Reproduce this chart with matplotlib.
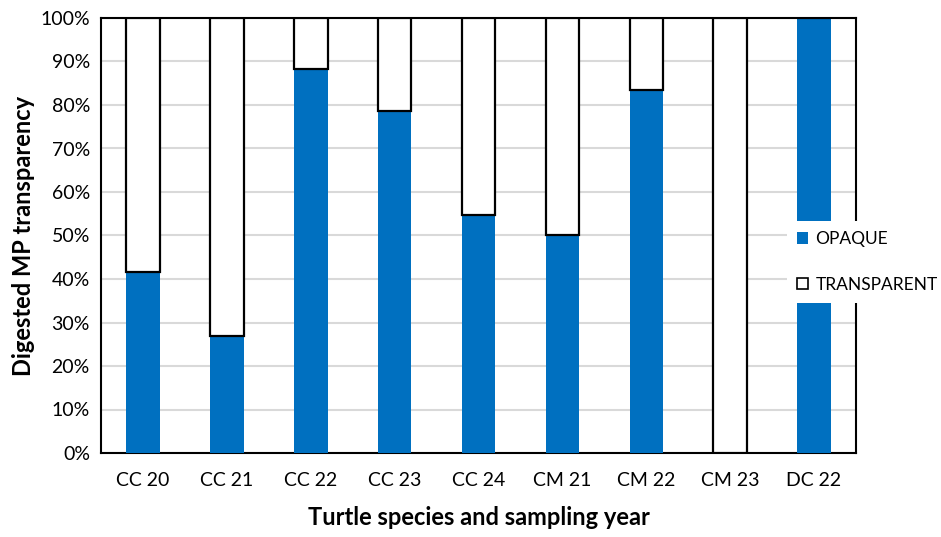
import matplotlib
matplotlib.use("Agg")
import matplotlib.pyplot as plt
from matplotlib.patches import Patch
import numpy as np

categories = ["CC 20", "CC 21", "CC 22", "CC 23", "CC 24", "CM 21", "CM 22", "CM 23", "DC 22"]
opaque = [41.6, 26.9, 88.3, 78.6, 54.7, 50.1, 83.4, 0.0, 100.0]
transparent = [100 - v for v in opaque]
y_ticks = list(range(0, 101, 10))

plt.rcParams["font.family"] = ["Lato", "DejaVu Sans"]

fig = plt.figure(figsize=(9.41, 5.37), dpi=100)
ax = fig.add_axes([101 / 941, 1 - 453 / 537, (856 - 101) / 941, (453 - 18) / 537])

x = np.arange(len(categories))
w = 0.4
ax.bar(x, opaque, width=w, color="#0070C0", edgecolor="none", zorder=3)
ax.bar(x, transparent, width=w, bottom=opaque, color="white",
       edgecolor="black", linewidth=1.6, zorder=3)

ax.set_xlim(-0.5, len(categories) - 0.5)
ax.set_ylim(0, 100)
ax.set_yticks(y_ticks)
ax.set_yticklabels([f"{t}%" for t in y_ticks], fontsize=14)
ax.set_xticks(x)
ax.set_xticklabels(categories, fontsize=14)
ax.tick_params(axis="both", length=0, pad=8)
ax.tick_params(axis="x", pad=14)
ax.yaxis.grid(True, color="#D9D9D9", linewidth=1.5, zorder=0)
ax.set_axisbelow(True)
for s in ax.spines.values():
    s.set_color("black")
    s.set_linewidth(1.5)

ax.set_xlabel("Turtle species and sampling year", fontsize=17, fontweight="bold", labelpad=12)
ax.set_ylabel("Digested MP transparency", fontsize=17, fontweight="bold", labelpad=4)

handles = [Patch(facecolor="#0070C0", edgecolor="none", label="OPAQUE"),
           Patch(facecolor="white", edgecolor="black", linewidth=1.2, label="TRANSPARENT")]
leg = fig.legend(handles=handles, loc="center left", bbox_to_anchor=(778 / 941, 1 - 262 / 537),
                 frameon=True, fontsize=12.5, handlelength=0.65, handleheight=0.65,
                 handletextpad=0.4, labelspacing=1.7, borderpad=0.6, fancybox=False)
leg.get_frame().set_facecolor("white")
leg.get_frame().set_edgecolor("none")
leg.get_frame().set_alpha(1)

fig.savefig("out.png", dpi=100, facecolor="white")
